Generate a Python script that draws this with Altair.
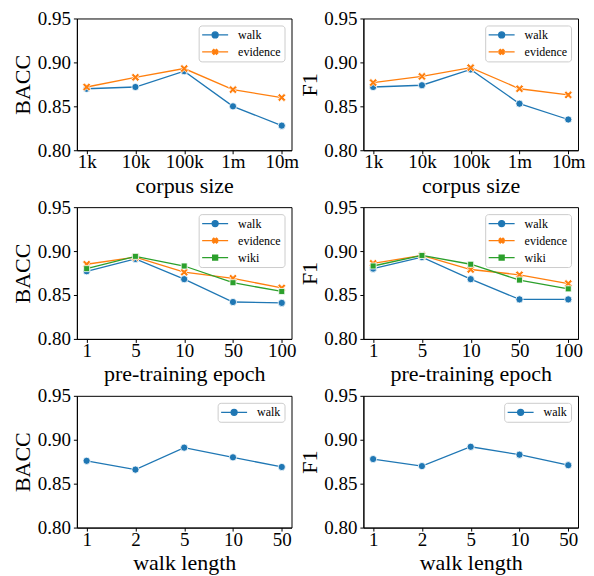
import altair as alt
import pandas as pd
import math

# ---------------- data ----------------
corpus_sizes = ["1k", "10k", "100k", "1m", "10m"]
corpus_bacc_walk = [0.870, 0.872, 0.890, 0.850, 0.828]
corpus_bacc_evidence = [0.872, 0.883, 0.893, 0.869, 0.860]
corpus_f1_walk = [0.872, 0.874, 0.892, 0.853, 0.835]
corpus_f1_evidence = [0.877, 0.884, 0.894, 0.870, 0.863]

epochs = ["1", "5", "10", "50", "100"]
epoch_bacc_walk = [0.877, 0.891, 0.868, 0.842, 0.841]
epoch_bacc_evidence = [0.885, 0.893, 0.876, 0.869, 0.858]
epoch_bacc_wiki = [0.880, 0.894, 0.883, 0.864, 0.854]
epoch_f1_walk = [0.880, 0.893, 0.868, 0.845, 0.845]
epoch_f1_evidence = [0.886, 0.895, 0.879, 0.873, 0.863]
epoch_f1_wiki = [0.883, 0.895, 0.885, 0.867, 0.857]

walk_lengths = ["1", "2", "5", "10", "50"]
length_bacc_walk = [0.876, 0.866, 0.891, 0.880, 0.869]
length_f1_walk = [0.878, 0.870, 0.892, 0.883, 0.871]

y_ticks = [0.80, 0.85, 0.90, 0.95]

# ---------------- style ----------------
FONT = "Liberation Serif, Times New Roman, serif"
COLORS = {"walk": "#1f77b4", "evidence": "#ff7f0e", "wiki": "#2ca02c"}


def x_polygon(scale, w=0.3):
    base = [(w, 1), (w, w), (1, w), (1, -w), (w, -w), (w, -1),
            (-w, -1), (-w, -w), (-1, -w), (-1, w), (-w, w), (-w, 1)]
    pts = []
    for (x, y) in base:
        rx = (x - y) / math.sqrt(2) * scale
        ry = (x + y) / math.sqrt(2) * scale
        pts.append(f"{rx:.3f},{ry:.3f}")
    return "M" + "L".join(pts) + "Z"


PLOT_SHAPES = {"walk": "circle", "evidence": x_polygon(1.0), "wiki": "square"}
PLOT_SIZES = {"walk": 52, "evidence": 80, "wiki": 36}

LINE = "M-2.6,0H2.6"
LEGEND_SHAPES = {
    "walk": LINE + "M0.6,0A0.6,0.6,0,1,1,-0.6,0A0.6,0.6,0,1,1,0.6,0Z",
    "evidence": LINE + x_polygon(0.55),
    "wiki": LINE + "M-0.5,-0.5H0.5V0.5H-0.5Z",
}


def panel(xcats, series, ytitle, xtitle):
    rows = []
    for name, vals in series.items():
        for c, v in zip(xcats, vals):
            rows.append({"x": c, "value": v, "series": name})
    df = pd.DataFrame(rows)
    names = list(series.keys())

    x_enc = alt.X("x:N", sort=xcats,
                  scale=alt.Scale(type="point", domain=xcats, padding=0.2),
                  axis=alt.Axis(title=xtitle, labelAngle=0, labelPadding=-1,
                                labelFont=FONT, titleFont=FONT,
                                titleY=42, titleBaseline="alphabetic"))
    y_enc = alt.Y("value:Q",
                  scale=alt.Scale(domain=[0.80, 0.95], nice=False, zero=False),
                  axis=alt.Axis(title=ytitle, values=y_ticks, format=".2f",
                                labelFont=FONT, titleFont=FONT,
                                labelPadding=3, titleX=-47,
                                titleBaseline="alphabetic"))

    layers = []
    for n in names:
        base = alt.Chart().transform_filter(alt.datum.series == n)
        layers.append(
            base.mark_line(strokeWidth=1.3, color=COLORS[n]).encode(x=x_enc, y=y_enc)
        )
        layers.append(
            base.mark_point(filled=True, opacity=1, shape=PLOT_SHAPES[n],
                            size=PLOT_SIZES[n], fill=COLORS[n], stroke="white",
                            strokeWidth=0.8).encode(x=x_enc, y=y_enc)
        )

    leg = alt.Legend(title=None, orient="top-right", offset=7,
                     labelFont=FONT, labelFontSize=12, labelColor="black",
                     symbolSize=100, symbolOffset=7, labelOffset=17,
                     rowPadding=5, padding=3.5, strokeColor="#cccccc",
                     cornerRadius=3, fillColor="white",
                     symbolStrokeWidth=1.3, symbolOpacity=1)
    legend_layer = alt.Chart().mark_point(filled=True, opacity=0).encode(
        x=x_enc, y=y_enc,
        color=alt.Color("series:N",
                        scale=alt.Scale(domain=names,
                                        range=[COLORS[n] for n in names]),
                        legend=leg),
        shape=alt.Shape("series:N",
                        scale=alt.Scale(domain=names,
                                        range=[LEGEND_SHAPES[n] for n in names]),
                        legend=leg),
        stroke=alt.Stroke("series:N",
                          scale=alt.Scale(domain=names,
                                          range=[COLORS[n] for n in names]),
                          legend=leg),
    )
    layers.append(legend_layer)
    return alt.layer(*layers, data=df).properties(width=215, height=132)


panels = [
    panel(corpus_sizes, {"walk": corpus_bacc_walk, "evidence": corpus_bacc_evidence},
          "BACC", "corpus size"),
    panel(corpus_sizes, {"walk": corpus_f1_walk, "evidence": corpus_f1_evidence},
          "F1", "corpus size"),
    panel(epochs, {"walk": epoch_bacc_walk, "evidence": epoch_bacc_evidence,
                   "wiki": epoch_bacc_wiki}, "BACC", "pre-training epoch"),
    panel(epochs, {"walk": epoch_f1_walk, "evidence": epoch_f1_evidence,
                   "wiki": epoch_f1_wiki}, "F1", "pre-training epoch"),
    panel(walk_lengths, {"walk": length_bacc_walk}, "BACC", "walk length"),
    panel(walk_lengths, {"walk": length_f1_walk}, "F1", "walk length"),
]

chart = alt.concat(*panels, columns=2, bounds="flush",
                   spacing={"row": 57, "column": 72}).resolve_scale(
    color="independent", shape="independent", stroke="independent"
).properties(
    padding={"left": 3, "top": 0, "right": 0, "bottom": 0}
).configure(
    font=FONT
).configure_view(
    stroke="black", strokeWidth=1
).configure_axis(
    labelFont=FONT, labelFontSize=19, labelColor="black",
    titleFont=FONT, titleFontSize=22, titleFontWeight="normal",
    titleColor="black", domainColor="black", domainWidth=1,
    tickColor="black", tickSize=3.5, tickWidth=1, grid=False
).configure_legend(
    labelFont=FONT
)

chart.save("out.html", embed_options={"renderer": "svg", "actions": False})
